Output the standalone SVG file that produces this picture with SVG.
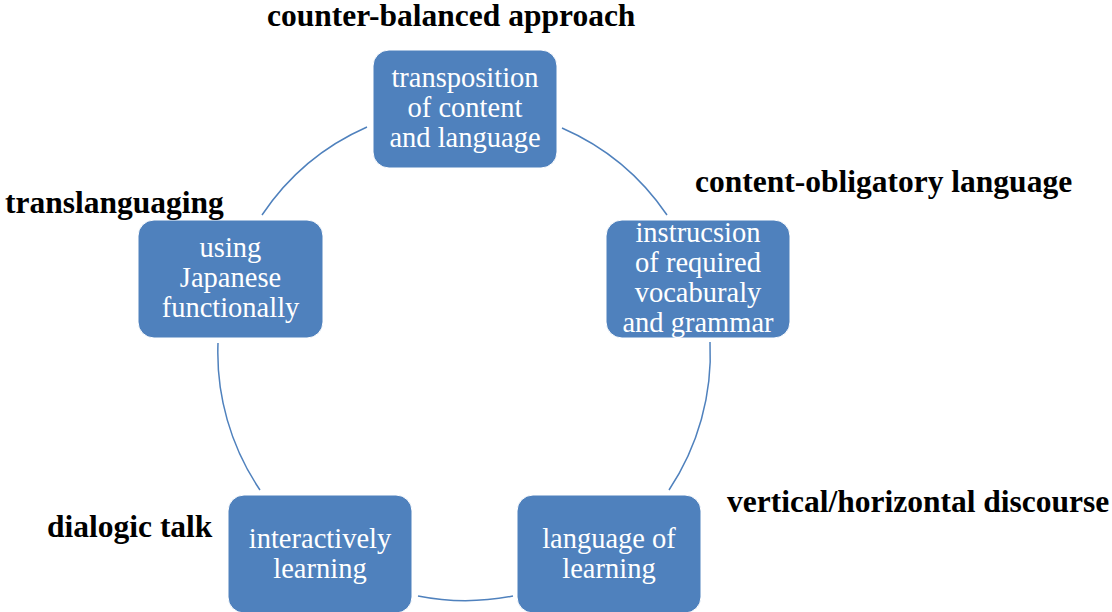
<svg xmlns="http://www.w3.org/2000/svg" width="1112" height="612" viewBox="0 0 1112 612">
<style>
.box{fill:#4F81BD;stroke:#FFFFFF;stroke-width:1}
.bt{font-family:"Liberation Serif","Times New Roman",serif;font-size:28.5px;fill:#FFFFFF;text-anchor:middle}
.lbl{font-family:"Liberation Serif","Times New Roman",serif;font-size:31.5px;font-weight:bold;fill:#000000}
.arc{fill:none;stroke:#4F81BD;stroke-width:1.5}
</style>
<rect width="1112" height="612" fill="#FFFFFF"/>
<g id="connectors">
<path class="arc" d="M 562 128 A 245 245 0 0 1 667 215"/>
<path class="arc" d="M 710 342 A 245 245 0 0 1 669 490"/>
<path class="arc" d="M 513 596 A 245 245 0 0 1 418 596"/>
<path class="arc" d="M 260 490 A 245 245 0 0 1 218 343"/>
<path class="arc" d="M 262 215 A 245 245 0 0 1 367 127"/>
</g>
<g id="node-top">
<rect class="box" x="373" y="50" width="184" height="118" rx="16"/>
<text class="bt" x="465" y="87">transposition</text>
<text class="bt" x="465" y="117">of content</text>
<text class="bt" x="465" y="147">and language</text>
</g>
<g id="node-right">
<rect class="box" x="606" y="220" width="184" height="118" rx="16"/>
<text class="bt" x="698" y="242">instrucsion</text>
<text class="bt" x="698" y="272">of required</text>
<text class="bt" x="698" y="302">vocaburaly</text>
<text class="bt" x="698" y="332">and grammar</text>
</g>
<g id="node-bottom-right">
<rect class="box" x="517" y="495" width="184" height="118" rx="16"/>
<text class="bt" x="609" y="548">language of</text>
<text class="bt" x="609" y="578">learning</text>
</g>
<g id="node-bottom-left">
<rect class="box" x="228" y="495" width="184" height="118" rx="16"/>
<text class="bt" x="320" y="548">interactively</text>
<text class="bt" x="320" y="578">learning</text>
</g>
<g id="node-left">
<rect class="box" x="138" y="220" width="185" height="118" rx="16"/>
<text class="bt" x="230.5" y="257">using</text>
<text class="bt" x="230.5" y="287">Japanese</text>
<text class="bt" x="230.5" y="317">functionally</text>
</g>
<g id="labels">
<text class="lbl" x="267" y="26">counter-balanced approach</text>
<text class="lbl" x="695" y="192">content-obligatory language</text>
<text class="lbl" x="5" y="213">translanguaging</text>
<text class="lbl" x="727" y="512">vertical/horizontal discourse</text>
<text class="lbl" x="47" y="537">dialogic talk</text>
</g>
</svg>
